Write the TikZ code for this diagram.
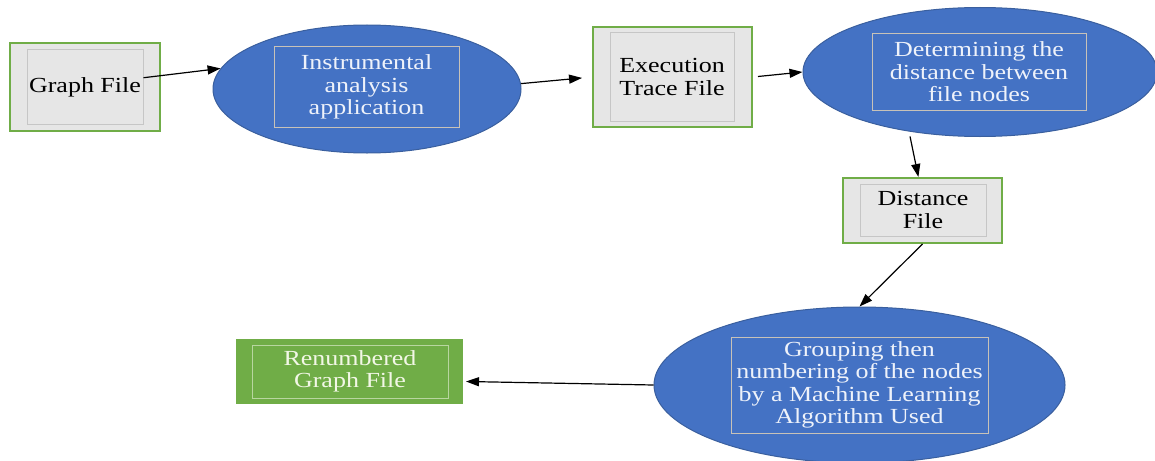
\documentclass[tikz,border=0pt]{standalone}
\usepackage{fontspec}
\setmainfont{Liberation Serif}[FakeStretch=1.21]
\usepackage{tikz}
\usetikzlibrary{shapes.geometric,arrows.meta}

\definecolor{boxgreen}{HTML}{70AD47}
\definecolor{boxgrey}{HTML}{E6E6E6}
\definecolor{innergrey}{HTML}{C6C6C6}
\definecolor{procblue}{HTML}{4472C4}
\definecolor{procedge}{HTML}{3A5F9E}
\definecolor{procframe}{HTML}{C8C2B8}
\definecolor{proctext}{HTML}{EEF2FA}
\definecolor{greenframe}{HTML}{B8D6A0}
\definecolor{greentext}{HTML}{F2F7E6}

\tikzset{
    filebox/.style={draw=boxgreen, line width=2pt, fill=boxgrey, inner sep=0pt},
    fileinner/.style={draw=innergrey, line width=1pt, align=center, inner sep=0pt, text=black},
    procell/.style={ellipse, draw=procedge, line width=1pt, fill=procblue, inner sep=0pt},
    procin/.style={draw=procframe, line width=1pt, align=center, inner sep=0pt, text=proctext},
    flow/.style={-{Triangle[length=13pt,width=9pt]}, line width=1.2pt}
}

\begin{document}
\begin{tikzpicture}[x=1pt,y=-1pt,font=\fontsize{21.5}{22.3}\selectfont]
        \useasboundingbox (0,0) rectangle (1155,460);

        \node[filebox, minimum width=150pt, minimum height=88pt] (gf) at (85,87) {};
        \node[fileinner, minimum width=116pt, minimum height=74pt] (gfin) at (85,87) {Graph File};

        \node[procell, minimum width=308pt, minimum height=128pt] (app) at (367,89) {};
        \node[procin, minimum width=185pt, minimum height=81pt] (appin) at (366.5,87) {Instrumental\\analysis\\application};

        \node[filebox, minimum width=159pt, minimum height=100pt] (exec) at (672.5,77) {};
        \node[fileinner, minimum width=124pt, minimum height=88pt] (execin) at (672,77) {Execution\\Trace File};

        \node[procell, minimum width=354pt, minimum height=129pt] (det) at (980,72) {};
        \node[procin, minimum width=214pt, minimum height=77pt] (detin) at (979,71.7) {Determining the\\distance between\\file nodes};

        \node[filebox, minimum width=159pt, minimum height=65pt] (dist) at (922.5,210.5) {};
        \node[fileinner, minimum width=126pt, minimum height=52pt] (distin) at (923,210) {Distance\\File};

        \node[procell, minimum width=411pt, minimum height=156pt] (grp) at (859.5,385) {};
        \node[procin, minimum width=257pt, minimum height=96pt] (grpin) at (859.5,385) {Grouping then\\numbering of the nodes\\by a Machine Learning\\Algorithm Used};

        \node[filebox, fill=boxgreen, minimum width=225pt, minimum height=63pt] (ren) at (349.5,371.5) {};
        \node[procin, draw=greenframe, text=greentext, minimum width=196pt, minimum height=53pt] (renin) at (350,371.5) {Renumbered\\Graph File};

        \draw[flow] (gfin.9) -- (app.172);
        \draw[flow, shorten >=10pt] (app.2) -- (exec.west);
        \draw[flow, shorten <=5pt] (exec.east) -- (det.west);
        \draw[flow, shorten <=5pt] (det.220) -- (dist.97);
        \draw[flow] (dist.south) -- (grp.north);
        \draw[flow, shorten >=3pt] (grp.west) -- (ren.-5);
\end{tikzpicture}
\end{document}
